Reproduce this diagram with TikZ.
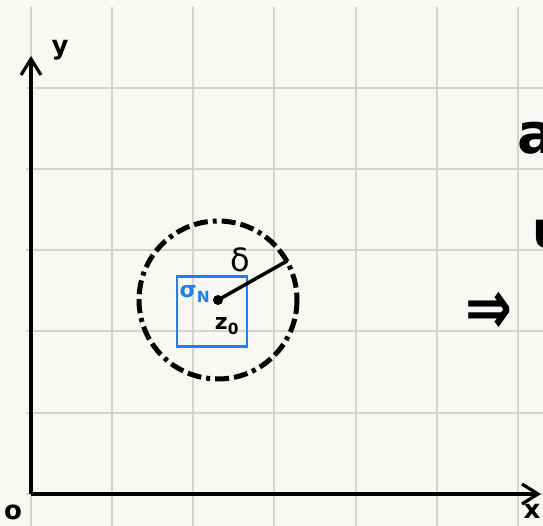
\documentclass[tikz,border=0pt]{standalone}
\usepackage{fontspec}
\setmainfont{DejaVu Sans}
\usepackage{graphicx}
\usetikzlibrary{arrows.meta}
\definecolor{paper}{HTML}{FAF8F4}
\definecolor{gridgray}{HTML}{D6D2CC}
\definecolor{penblue}{HTML}{1F80F0}
\begin{document}
\begin{tikzpicture}[x=1pt,y=-1pt,
  gridline/.style={gridgray, line width=1.2pt},
  axis/.style={line width=3.2pt, -{Straight Barb[length=16pt,width=20pt]}},
  hand/.style={font=\fontsize{26}{30}\selectfont\bfseries, inner sep=0pt},
  ]
  \tikzset{ring/.style={line width=5pt, dash pattern=on 14pt off 5pt on 14pt off 5pt on 4pt off 5pt}}

  \fill[paper] (0,0) rectangle (543,526);
  \clip (0,0) rectangle (543,526);

  % squared paper
  \foreach \gx in {31,112,193,274,356,437,518}
    \draw[gridline] (\gx,7) -- (\gx,526);
  \foreach \gy in {88,169,250,331,413,494}
    \draw[gridline] (26,\gy) -- (543,\gy);

  % axes
  \coordinate (O) at (31,494);
  \coordinate (ytip) at (31,56);
  \coordinate (xtip) at (541,494);
  \draw[axis] (O) -- (ytip);
  \draw[axis] (O) -- (xtip);
  \node[hand] (ylabel) at (60,50) {y};
  \node[hand] (olabel) at (13,512) {o};
  \node[hand] (xlabel) at (532,511) {x};

  % neighbourhood of z_0
  \coordinate (z0) at (218,300);
  \coordinate (rim) at (287,261);
  \draw[ring] (z0) circle [radius=79];
  \node[draw=penblue, line width=2.2pt, minimum size=70pt, inner sep=0pt] (sigmabox) at (212,311.5) {};
  \draw[line width=3.5pt, line cap=round] (z0) -- (rim);
  \fill (z0) circle [radius=5];
  \node[font=\fontsize{32}{36}\selectfont] (delta) at (240,260) {δ};
  \node[penblue, font=\fontsize{22}{26}\selectfont\bfseries] (sigmaN) at (195,294) {σ\textsubscript{N}};
  \node[font=\fontsize{22}{26}\selectfont\bfseries] (zlabel) at (227,326) {z\textsubscript{0}};

  % right margin
  \node[font=\fontsize{56}{60}\selectfont\bfseries] (implies) at (489,313) {\scalebox{1}[1.4]{⇒}};
  \node[anchor=west, inner sep=0pt, font=\fontsize{56}{60}\selectfont\bfseries] (aletter) at (517,138) {a};
  \node[anchor=west, inner sep=0pt, font=\fontsize{50}{54}\selectfont\bfseries] (uletter) at (532,234) {u};
\end{tikzpicture}
\end{document}
